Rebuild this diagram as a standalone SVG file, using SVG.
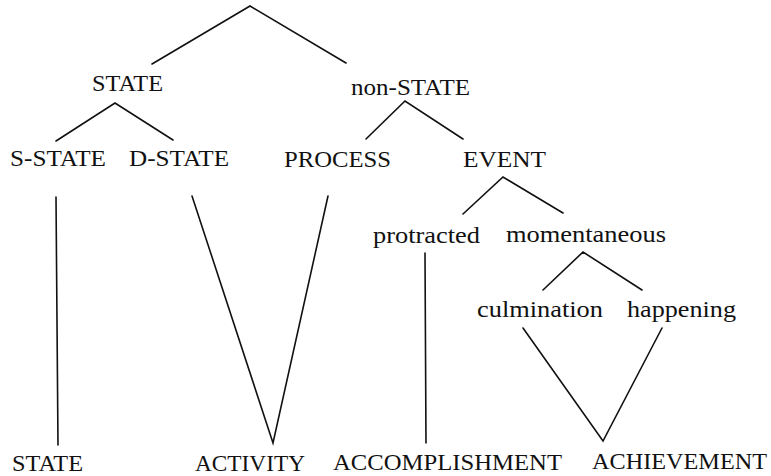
<svg xmlns="http://www.w3.org/2000/svg" width="771" height="476" viewBox="0 0 771 476">
<style>
.t{font-size:24px;fill:#111;}
.e{stroke:#111;stroke-width:1.6;fill:none;stroke-linecap:round;stroke-linejoin:miter;}
</style>
<rect width="771" height="476" fill="#fff"/>
<g id="connectors">
<polyline class="e" points="152,64 250,6 346,63"/>
<polyline class="e" points="56,141 115,103 173,140"/>
<polyline class="e" points="366,139 405,101 463,139"/>
<polyline class="e" points="463,214 503,177 563,213"/>
<polyline class="e" points="543,290 583,252 642,290"/>
<line class="e" x1="56" y1="197" x2="58" y2="445"/>
<polyline class="e" points="192,196 273,443 328,196"/>
<line class="e" x1="425" y1="253" x2="426" y2="443"/>
<polyline class="e" points="523,328 603,441 662,328"/>
</g>
<g class="t" font-family="'Liberation Serif', 'DejaVu Serif', serif">
<g id="n-state"><text x="92" y="91" textLength="71" lengthAdjust="spacingAndGlyphs">STATE</text></g>
<g id="n-nonstate"><text x="351" y="95" textLength="119" lengthAdjust="spacingAndGlyphs">non-STATE</text></g>
<g id="n-sstate"><text x="10" y="166" textLength="96" lengthAdjust="spacingAndGlyphs">S-STATE</text></g>
<g id="n-dstate"><text x="129" y="166" textLength="100" lengthAdjust="spacingAndGlyphs">D-STATE</text></g>
<g id="n-process"><text x="284" y="167" textLength="107" lengthAdjust="spacingAndGlyphs">PROCESS</text></g>
<g id="n-event"><text x="463" y="167" textLength="83" lengthAdjust="spacingAndGlyphs">EVENT</text></g>
<g id="n-protracted"><text x="373" y="243" textLength="107" lengthAdjust="spacingAndGlyphs">protracted</text></g>
<g id="n-momentaneous"><text x="506" y="242" textLength="160" lengthAdjust="spacingAndGlyphs">momentaneous</text></g>
<g id="n-culmination"><text x="477" y="317" textLength="126" lengthAdjust="spacingAndGlyphs">culmination</text></g>
<g id="n-happening"><text x="627" y="317" textLength="109" lengthAdjust="spacingAndGlyphs">happening</text></g>
<g id="n-state2"><text x="12" y="471" textLength="71" lengthAdjust="spacingAndGlyphs">STATE</text></g>
<g id="n-activity"><text x="195" y="471" textLength="110" lengthAdjust="spacingAndGlyphs">ACTIVITY</text></g>
<g id="n-accomplishment"><text x="333" y="470" textLength="229" lengthAdjust="spacingAndGlyphs">ACCOMPLISHMENT</text></g>
<g id="n-achievement"><text x="592" y="469" textLength="175" lengthAdjust="spacingAndGlyphs">ACHIEVEMENT</text></g>
</g>
</svg>
